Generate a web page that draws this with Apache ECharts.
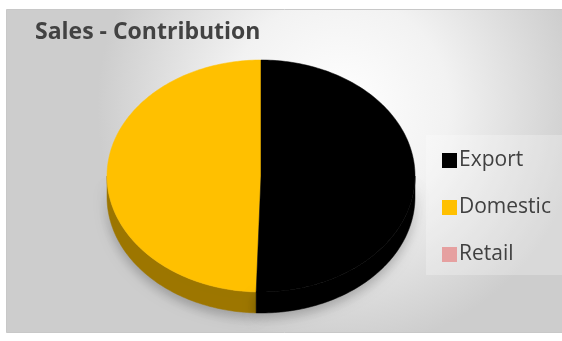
<!DOCTYPE html>
<html>
<head>
<meta charset="utf-8">
<script src="https://cdn.jsdelivr.net/npm/echarts@6/dist/echarts.min.js"></script>
<style>
html,body{margin:0;padding:0;background:#ffffff;}
#main{width:562px;height:341px;}
</style>
</head>
<body>
<div id="main"></div>
<script>
// Data
var categories = ['Export', 'Domestic', 'Retail'];
var values = [50.5, 49.5, 0];
var topColors = ['#000000', '#FFC000', '#E6A0A0'];
var sideColors = ['#000000', '#9E7700', '#B07070'];

var chart = echarts.init(document.getElementById('main'), null, {renderer: 'canvas'});

var total = values.reduce(function (a, b) { return a + b; }, 0);
var CX = 261, CY = 176, RX = 154, RY = 116, DEPTH = 21;

function pt(theta, dy) {
  return [CX + RX * Math.sin(theta), CY - RY * Math.cos(theta) + (dy || 0)];
}

function makeRender(idx) {
  return function (params, api) {
    var before = 0;
    for (var i = 0; i < idx; i++) before += values[i];
    var v = api.value(0);
    if (!(v > 0)) return null;
    var a0 = before / total * Math.PI * 2;
    var a1 = (before + v) / total * Math.PI * 2;
    var children = [];
    var s0 = Math.max(a0, Math.PI / 2), s1 = Math.min(a1, Math.PI * 1.5);
    if (s1 > s0) {
      var sp = [], n = 80, k;
      for (k = 0; k <= n; k++) sp.push(pt(s0 + (s1 - s0) * k / n, 0));
      for (k = n; k >= 0; k--) sp.push(pt(s0 + (s1 - s0) * k / n, DEPTH));
      children.push({
        type: 'polygon',
        z2: 1,
        shape: {points: sp},
        style: {fill: sideColors[idx], stroke: sideColors[idx], lineWidth: 0.5,
          shadowBlur: 12, shadowColor: 'rgba(0,0,0,0.25)', shadowOffsetY: 5}
      });
    }
    var tp = [[CX, CY]], m = 160;
    for (var j = 0; j <= m; j++) tp.push(pt(a0 + (a1 - a0) * j / m, 0));
    children.push({
      type: 'polygon',
      z2: 2,
      shape: {points: tp},
      style: {fill: topColors[idx], stroke: topColors[idx], lineWidth: 0.5}
    });
    return {type: 'group', children: children};
  };
}

var series = categories.map(function (name, i) {
  return {
    type: 'custom',
    name: name,
    coordinateSystem: 'none',
    color: topColors[i],
    renderItem: makeRender(i),
    data: [[values[i]]],
    silent: true,
    z: i < 2 ? 3 - i : 1
  };
});

chart.setOption({
  animation: false,
  graphic: [{
    type: 'rect',
    z: -10,
    shape: {x: 6.5, y: 9.5, width: 556, height: 323},
    style: {
      fill: {
        type: 'radial', x: 0.6, y: 0.3, r: 0.75,
        colorStops: [{offset: 0, color: '#ffffff'}, {offset: 0.45, color: '#f2f2f2'}, {offset: 1, color: '#cdcdcd'}]
      },
      stroke: '#c8c8c8', lineWidth: 1
    }
  }, {
    type: 'rect',
    z: -9,
    shape: {x: 426, y: 135, width: 136, height: 140},
    style: {fill: 'rgba(255,255,255,0.25)'}
  }],
  title: {
    text: 'Sales - Contribution',
    left: 30,
    top: 16,
    textStyle: {fontFamily: 'Open Sans', fontSize: 23, fontWeight: 'bold', color: '#424242'}
  },
  legend: {
    orient: 'vertical',
    left: 437,
    top: 145,
    itemWidth: 15,
    itemHeight: 15,
    itemGap: 26,
    icon: 'rect',
    selectedMode: false,
    data: categories,
    textStyle: {fontFamily: 'Open Sans', fontSize: 21, color: '#404040', padding: [0, 0, 0, -3]}
  },
  series: series
});
</script>
</body>
</html>
